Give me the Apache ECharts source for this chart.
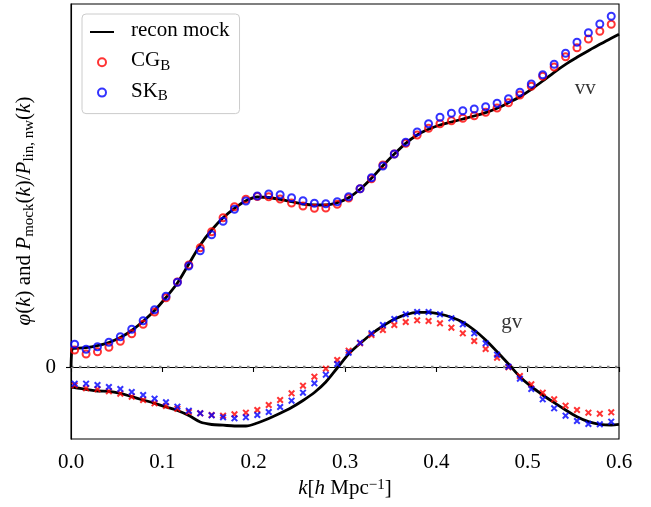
<!DOCTYPE html>
<html>
<head>
<meta charset="utf-8">
<script src="https://cdn.jsdelivr.net/npm/echarts@6/dist/echarts.min.js"></script>
<style>
  html, body { margin: 0; padding: 0; background: #fff; }
  #chart { width: 651px; height: 507px; }
</style>
</head>
<body>
<div id="chart"></div>
<script>
// wavenumbers of the measured bins (h/Mpc)
const kBins = [0.004, 0.0165, 0.029, 0.0415, 0.054, 0.0665, 0.079, 0.0915, 0.104, 0.1165,
  0.129, 0.1415, 0.154, 0.1665, 0.179, 0.1915, 0.204, 0.2165, 0.229, 0.2415,
  0.254, 0.2665, 0.279, 0.2915, 0.304, 0.3165, 0.329, 0.3415, 0.354, 0.3665,
  0.379, 0.3915, 0.404, 0.4165, 0.429, 0.4415, 0.454, 0.4665, 0.479, 0.4915,
  0.504, 0.5165, 0.529, 0.5415, 0.554, 0.5665, 0.579, 0.5915];

// CG_B estimator
const cgVV = [0.17, 0.13, 0.153, 0.197, 0.257, 0.333, 0.427, 0.55, 0.693, 0.85,
  1.02, 1.193, 1.353, 1.493, 1.603, 1.677, 1.705, 1.703, 1.68, 1.64,
  1.61, 1.587, 1.59, 1.627, 1.69, 1.783, 1.883, 2.02, 2.13, 2.237,
  2.32, 2.387, 2.433, 2.463, 2.487, 2.513, 2.547, 2.59, 2.643, 2.72,
  2.807, 2.907, 3.0, 3.103, 3.193, 3.28, 3.357, 3.427];
const cgGV = [-0.183, -0.213, -0.223, -0.243, -0.267, -0.297, -0.33, -0.363, -0.39, -0.418,
  -0.45, -0.463, -0.48, -0.487, -0.473, -0.457, -0.43, -0.38, -0.33, -0.263,
  -0.187, -0.097, -0.017, 0.07, 0.163, 0.237, 0.32, 0.37, 0.42, 0.45,
  0.467, 0.46, 0.437, 0.393, 0.337, 0.26, 0.18, 0.093, -0.003, -0.09,
  -0.173, -0.257, -0.323, -0.387, -0.43, -0.457, -0.467, -0.453];

// SK_B estimator
const skVV = [0.227, 0.177, 0.203, 0.247, 0.303, 0.377, 0.463, 0.573, 0.707, 0.847,
  1.01, 1.163, 1.323, 1.457, 1.577, 1.66, 1.71, 1.73, 1.723, 1.693,
  1.663, 1.637, 1.633, 1.653, 1.703, 1.783, 1.893, 2.01, 2.13, 2.247,
  2.35, 2.433, 2.497, 2.537, 2.563, 2.58, 2.603, 2.637, 2.683, 2.747,
  2.83, 2.923, 3.027, 3.137, 3.247, 3.343, 3.43, 3.507];
const skGV = [-0.167, -0.167, -0.18, -0.2, -0.22, -0.25, -0.28, -0.317, -0.353, -0.397,
  -0.437, -0.463, -0.483, -0.503, -0.513, -0.503, -0.48, -0.45, -0.40, -0.337,
  -0.257, -0.163, -0.077, 0.03, 0.143, 0.243, 0.337, 0.42, 0.48, 0.527,
  0.55, 0.55, 0.527, 0.487, 0.427, 0.337, 0.237, 0.123, 0.003, -0.117,
  -0.22, -0.323, -0.413, -0.487, -0.54, -0.57, -0.573, -0.547];

// reconstructed mock, sampled on a slightly wider k range
const mockK = [0, 0.0015, 0.004, 0.0165, 0.029, 0.0415, 0.054, 0.0665, 0.079, 0.0915, 0.104, 0.1165,
  0.129, 0.1415, 0.154, 0.1665, 0.179, 0.1915, 0.204, 0.2165, 0.229, 0.2415,
  0.254, 0.2665, 0.279, 0.2915, 0.304, 0.3165, 0.329, 0.3415, 0.354, 0.3665,
  0.379, 0.3915, 0.404, 0.4165, 0.429, 0.4415, 0.454, 0.4665, 0.479, 0.4915,
  0.504, 0.5165, 0.529, 0.5415, 0.554, 0.5665, 0.579, 0.5915, 0.6];
const mockVV = [0, 0.185, 0.187, 0.193, 0.213, 0.245, 0.295, 0.365, 0.457, 0.565, 0.695, 0.84,
  1.03, 1.22, 1.37, 1.493, 1.587, 1.663, 1.70, 1.695, 1.677, 1.653,
  1.63, 1.62, 1.62, 1.643, 1.693, 1.777, 1.887, 2.013, 2.13, 2.237,
  2.32, 2.377, 2.42, 2.45, 2.48, 2.51, 2.543, 2.587, 2.643, 2.703,
  2.777, 2.86, 2.947, 3.027, 3.097, 3.163, 3.227, 3.287, 3.327];
const mockGV = [-0.203, -0.204, -0.205, -0.223, -0.24, -0.243, -0.263, -0.297, -0.33, -0.363, -0.40, -0.435,
  -0.485, -0.55, -0.575, -0.582, -0.59, -0.59, -0.56, -0.515, -0.463, -0.405,
  -0.335, -0.255, -0.15, -0.01, 0.13, 0.235, 0.33, 0.41, 0.477, 0.523,
  0.547, 0.547, 0.53, 0.497, 0.447, 0.37, 0.27, 0.153, 0.03, -0.097,
  -0.197, -0.28, -0.357, -0.43, -0.497, -0.547, -0.573, -0.58, -0.573];

// x tick positions, zero reference line and curve annotations
const xTicks = [0, 0.1, 0.2, 0.3, 0.4, 0.5, 0.6];
const zeroK = [0, 0.6];
const zeroY = [0, 0];
const noteText = ['vv', 'gv'];
const noteK = [0.563, 0.4825];
const noteY = [2.79, 0.45];

const SERIF = "'Liberation Serif', 'DejaVu Serif', serif";
const FS = 21;

function pairs(xs, ys) { return xs.map((x, i) => [x, ys[i]]); }

const crossPath = 'path://M0,0L10,10M10,0L0,10';

function circles(name, ys, color, z) {
  return {
    name: name, type: 'scatter', z: z,
    data: pairs(kBins, ys),
    symbol: 'circle', symbolSize: 7,
    itemStyle: { color: 'rgba(255,255,255,0)', borderColor: color, borderWidth: 2 }
  };
}
function crosses(name, ys, color, z) {
  return {
    name: name, type: 'scatter', z: z,
    data: pairs(kBins, ys),
    symbol: crossPath, symbolSize: 5.6,
    itemStyle: { color: 'rgba(255,255,255,0)', borderColor: color, borderWidth: 2 }
  };
}
function mockLine(ys) {
  return {
    name: 'recon mock', type: 'line', z: 2,
    data: pairs(mockK, ys),
    symbol: 'none', smooth: 0.3,
    lineStyle: { color: '#000', width: 2.8 },
    itemStyle: { color: 'rgba(0,0,0,0)', borderWidth: 0 }
  };
}

const baseRich = {
  b: { fontFamily: SERIF, fontSize: FS, lineHeight: 22, color: '#000', padding: [0, 0, 3, 0] },
  i: { fontFamily: SERIF, fontSize: FS, lineHeight: 22, color: '#000', fontStyle: 'italic', padding: [0, 0, 3, 0] },
  s: { fontFamily: SERIF, fontSize: 15, lineHeight: 15, color: '#000', verticalAlign: 'bottom' }
};
const xNameRich = {
  b: { fontFamily: SERIF, fontSize: FS, lineHeight: 22, color: '#000' },
  i: { fontFamily: SERIF, fontSize: FS, lineHeight: 22, color: '#000', fontStyle: 'italic' },
  p: { fontFamily: SERIF, fontSize: 15, lineHeight: 15, color: '#000', verticalAlign: 'top' }
};

const legendLabels = {
  'recon mock': '{b|recon mock}',
  'CGB': '{b|CG}{s|B}',
  'SKB': '{b|SK}{s|B}'
};

const chart = echarts.init(document.getElementById('chart'), null, { renderer: 'canvas' });
chart.setOption({
  animation: false,
  backgroundColor: '#fff',
  grid: { left: 71, right: 32, top: 4, bottom: 68, show: true, borderColor: '#000', borderWidth: 1.1, backgroundColor: 'transparent' },
  legend: {
    data: ['recon mock', 'CGB', 'SKB'],
    orient: 'vertical', left: 82, top: 14,
    padding: [6, 10, 9, 7],
    itemGap: 6.3, itemWidth: 24, itemHeight: 8,
    backgroundColor: '#fff', borderColor: '#cccccc', borderWidth: 1, borderRadius: 4,
    formatter: name => legendLabels[name],
    textStyle: { padding: [0, 0, 0, 12], rich: baseRich },
    selectedMode: false
  },
  xAxis: {
    type: 'value', min: 0, max: 0.6, interval: 0.1,
    axisLine: { lineStyle: { color: '#000', width: 1.1 } },
    axisTick: { length: 5, lineStyle: { color: '#000', width: 1.1 }, customValues: xTicks },
    axisLabel: { customValues: xTicks, formatter: v => v.toFixed(1), fontFamily: SERIF, fontSize: FS, color: '#000', margin: 13 },
    splitLine: { show: false },
    name: '{i|k}{b|[}{i|h}{b| Mpc}{p|\u22121}{b|]}',
    nameLocation: 'middle', nameGap: 38,
    nameTextStyle: { rich: xNameRich }
  },
  yAxis: {
    type: 'value', min: -0.72, max: 3.63,
    axisLine: { show: true, lineStyle: { color: '#000', width: 1.1 } },
    axisTick: { show: true, length: 5, lineStyle: { color: '#000', width: 1.1 }, customValues: [0] },
    axisLabel: { customValues: [0], formatter: () => '0', fontFamily: SERIF, fontSize: FS, color: '#000', margin: 15 },
    splitLine: { show: false }
  },
  graphic: [{
    type: 'text', x: 26, y: 211, rotation: Math.PI / 2,
    style: {
      text: '{i|\u03c6}{b|(}{i|k}{b|) and }{i|P}{s|mock}{b|(}{i|k}{b|)/}{i|P}{s|lin, nw}{b|(}{i|k}{b|)}',
      rich: baseRich, align: 'center', verticalAlign: 'middle'
    }
  }],
  series: [
    {
      name: 'zero', type: 'line', z: 1, silent: true,
      data: pairs(zeroK, zeroY), symbol: 'none',
      lineStyle: { color: '#808080', width: 2.5, type: [2.5, 5.5], dashOffset: -8 }
    },
    mockLine(mockVV),
    mockLine(mockGV),
    circles('CGB', cgVV, '#ff0000', 3),
    crosses('CGB', cgGV, '#ff0000', 3),
    circles('SKB', skVV, '#0000ff', 4),
    crosses('SKB', skGV, '#0000ff', 4),
    {
      name: 'notes', type: 'scatter', z: 5, silent: true,
      data: noteK.map((k, i) => [k, noteY[i], noteText[i]]),
      symbolSize: 1, itemStyle: { color: 'rgba(0,0,0,0)' },
      label: {
        show: true, position: 'inside', formatter: p => p.value[2],
        fontFamily: SERIF, fontSize: FS, color: '#000'
      }
    }
  ]
});
</script>
</body>
</html>
